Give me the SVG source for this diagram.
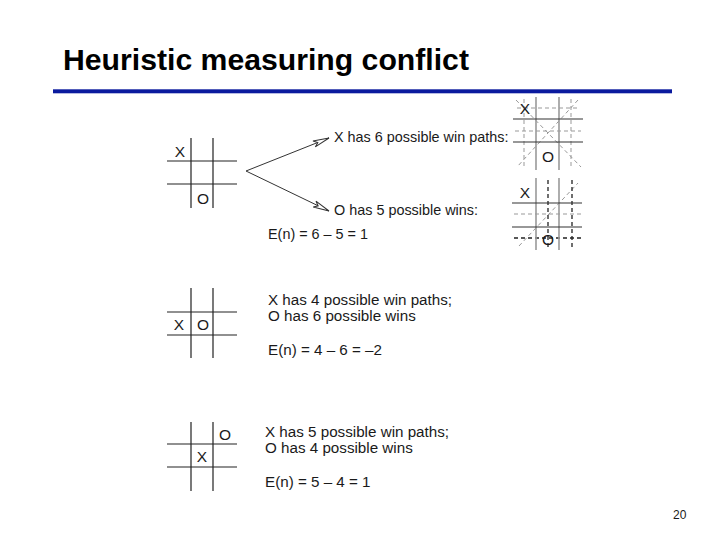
<svg xmlns="http://www.w3.org/2000/svg" width="720" height="540" viewBox="0 0 720 540">
<style>
text{font-family:"Liberation Sans",Arial,sans-serif;fill:#1a1a1a}
.title{font-size:30.2px;font-weight:bold;fill:#000}
.t1{font-size:14.4px}
.t2{font-size:15.2px}
.mark{font-size:15.5px;text-anchor:middle}
.smark{font-size:15.5px;text-anchor:middle}
.grid{stroke:#222;stroke-width:1.2;fill:none}
.gv{stroke:#9a9a9a;stroke-width:1.6;fill:none}
.gh{stroke:#333;stroke-width:1.2;fill:none}
.dl{stroke:#999;stroke-width:1;stroke-dasharray:4 3;fill:none}
.dd{stroke:#222;stroke-width:1.3;stroke-dasharray:4 3;fill:none}
.conn{stroke:#333;stroke-width:1;fill:none}
</style>
<defs>
<marker id="ah" markerUnits="userSpaceOnUse" markerWidth="20" markerHeight="10" refX="17" refY="5" orient="auto">
<path d="M1,1.8 L17,5 L1,8.2 L5,5 Z" fill="#fff" stroke="#333" stroke-width="1"/>
</marker>
</defs>
<rect width="720" height="540" fill="#fff"/>
<g id="title">
<text class="title" x="63" y="69.5">Heuristic measuring conflict</text>
<rect x="53" y="89.3" width="619" height="4" fill="#0a1a9e"/>
</g>
<g id="board1">
<path class="grid" d="M191,138V208M213,138V208M167,161H237M167,184H237"/>
<text class="mark" x="180" y="157">X</text>
<text class="mark" x="203" y="204">O</text>
</g>
<g id="connectors">
<path class="conn" d="M246,171L329,138" marker-end="url(#ah)"/>
<path class="conn" d="M246,171L329,211" marker-end="url(#ah)"/>
</g>
<g id="label1">
<text class="t1" x="334" y="142">X has 6 possible win paths:</text>
<text class="t1" x="334" y="215">O has 5 possible wins:</text>
<text class="t1" x="268" y="239">E(n) = 6 – 5 = 1</text>
</g>
<g id="boardX">
<path class="dl" d="M517,108H577M515,131H581M524,99V169M571,99V169M516,100L581,167M578,100L517,167"/>
<path class="gv" d="M536,97V170M559,97V170"/>
<path class="gh" d="M513,119H583M513,142H583"/>
<text class="smark" x="525" y="114">X</text>
<text class="smark" x="548" y="162">O</text>
</g>
<g id="boardO">
<path class="dl" d="M514,214H582M519,246L578,183"/>
<path class="dd" d="M514,238H582M548,180V250M572,180V250"/>
<path class="gv" d="M536,178V250M559,178V250"/>
<path class="gh" d="M512,203H582M512,227H582"/>
<text class="smark" x="525" y="198">X</text>
<text class="smark" x="548" y="245">O</text>
</g>
<g id="board2">
<path class="grid" d="M191,288V358M213,288V358M167,312H237M167,335H237"/>
<text class="mark" x="179" y="330">X</text>
<text class="mark" x="203" y="330">O</text>
</g>
<g id="label2">
<text class="t2" x="268" y="304.5">X has 4 possible win paths;</text>
<text class="t2" x="268" y="321">O has 6 possible wins</text>
<text class="t2" x="268" y="355">E(n) = 4 – 6 = –2</text>
</g>
<g id="board3">
<path class="grid" d="M191,422V491M213,422V491M167,444H237M167,467H237"/>
<text class="mark" x="225" y="440">O</text>
<text class="mark" x="202" y="462">X</text>
</g>
<g id="label3">
<text class="t2" x="265" y="437">X has 5 possible win paths;</text>
<text class="t2" x="265" y="453">O has 4 possible wins</text>
<text class="t2" x="265" y="487">E(n) = 5 – 4 = 1</text>
</g>
<text x="673" y="519" style="font-size:12px">20</text>
</svg>
